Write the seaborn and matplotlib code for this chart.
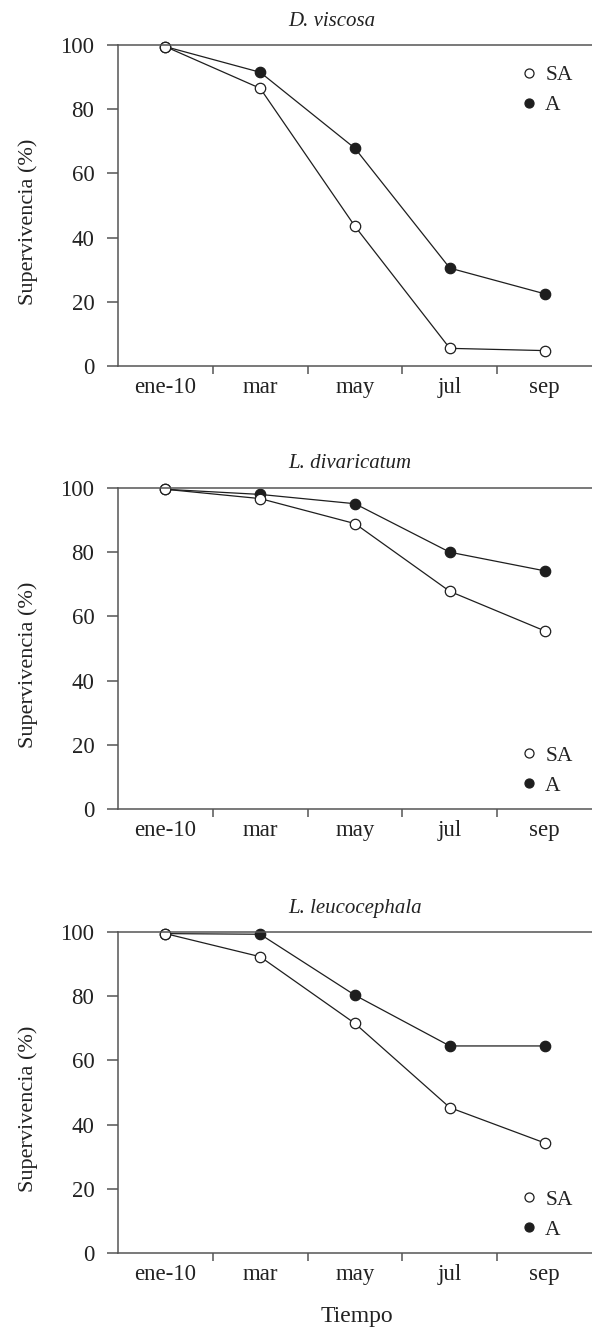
import numpy as np
import pandas as pd
import matplotlib
matplotlib.use("Agg")
import matplotlib.pyplot as plt
import seaborn as sns
from matplotlib.lines import Line2D

# ---- data ----
months = ["ene-10", "mar", "may", "jul", "sep"]
species = ["D. viscosa", "L. divaricatum", "L. leucocephala"]
sa_viscosa = [99.5, 86.5, 43.5, 5.5, 4.8]
a_viscosa = [99.5, 91.5, 67.8, 30.5, 22.5]
sa_divaricatum = [99.6, 96.7, 88.9, 67.8, 55.5]
a_divaricatum = [99.6, 98.0, 95.1, 80.0, 74.2]
sa_leucocephala = [99.5, 92.3, 71.5, 45.3, 34.3]
a_leucocephala = [99.5, 99.3, 80.3, 64.5, 64.5]
yticks = [0, 20, 40, 60, 80, 100]
ylabel = "Supervivencia (%)"
xlabel = "Tiempo"
series_labels = ["SA", "A"]

sa_all = [sa_viscosa, sa_divaricatum, sa_leucocephala]
a_all = [a_viscosa, a_divaricatum, a_leucocephala]

sns.set_theme(style="ticks")
plt.rcParams["font.family"] = ["Liberation Serif", "DejaVu Serif"]

W, H = 592, 1328
fig = plt.figure(figsize=(W / 100, H / 100), dpi=100)

txt = "#222222"
spine_c = "#555555"
line_c = "#1e1e1e"

ax_top_px = [45, 488, 932]
ax_bot_px = [366, 809, 1253]
title_base_px = [26, 468, 913]
legend_pos = [(0.968, 0.95), (0.968, 0.21), (0.968, 0.21)]

left_px = 118
for i in range(3):
    bottom = 1 - ax_bot_px[i] / H
    height = (ax_bot_px[i] - ax_top_px[i]) / H
    ax = fig.add_axes([left_px / W, bottom, 1 - left_px / W, height])
    df_sa = pd.DataFrame({"mes": months, "v": sa_all[i]})
    df_a = pd.DataFrame({"mes": months, "v": a_all[i]})
    sns.lineplot(data=df_a, x="mes", y="v", ax=ax, color=line_c, lw=0.9,
                 marker="o", markersize=7.5, markerfacecolor=line_c,
                 markeredgecolor=line_c, markeredgewidth=0.9, clip_on=False,
                 sort=False)
    sns.lineplot(data=df_sa, x="mes", y="v", ax=ax, color=line_c, lw=0.9,
                 marker="o", markersize=7.5, markerfacecolor="white",
                 markeredgecolor=line_c, markeredgewidth=0.9, clip_on=False,
                 sort=False)
    ax.set_xlim(-0.5, 4.5)
    ax.set_ylim(0, 100)
    ax.set_yticks(yticks)
    ax.set_yticklabels([str(t) for t in yticks], fontsize=16.5, color=txt)
    ax.set_xticks(range(len(months)))
    ax.set_xticklabels(months, fontsize=16.5, color=txt)
    ax.set_xticks([0.5, 1.5, 2.5, 3.5], minor=True)
    ax.tick_params(axis="x", which="major", length=0, pad=8)
    ax.tick_params(axis="x", which="minor", length=6, width=1.1, color=spine_c, direction="out")
    ax.tick_params(axis="y", which="major", length=8, width=1.1, color=spine_c, pad=9, direction="out")
    for s in ["left", "bottom", "top"]:
        ax.spines[s].set_visible(True)
        ax.spines[s].set_color(spine_c)
        ax.spines[s].set_linewidth(1.1)
    ax.spines["right"].set_visible(False)
    ax.set_xlabel("")
    ax.set_ylabel(ylabel, fontsize=16, color=txt)
    ax.yaxis.set_label_coords(-0.168, 0.45)
    handles = [
        Line2D([], [], ls="none", marker="o", markersize=6.5, markerfacecolor="white",
               markeredgecolor=line_c, markeredgewidth=0.9),
        Line2D([], [], ls="none", marker="o", markersize=6.5, markerfacecolor=line_c,
               markeredgecolor=line_c, markeredgewidth=0.9),
    ]
    leg = ax.legend(handles, series_labels, loc="upper right",
                    bbox_to_anchor=legend_pos[i], frameon=False, fontsize=15.5,
                    handlelength=0.6, handletextpad=0.45, labelspacing=0.45,
                    borderpad=0.2, borderaxespad=0)
    for t in leg.get_texts():
        t.set_color(txt)
    fig.text(288 / W, 1 - title_base_px[i] / H, species[i], fontsize=15,
             style="italic", color=txt, ha="left", va="baseline")

fig.text(357 / W, 1 - 1322 / H, xlabel, fontsize=17, color=txt,
         ha="center", va="baseline")

fig.savefig("out.png", dpi=100)
